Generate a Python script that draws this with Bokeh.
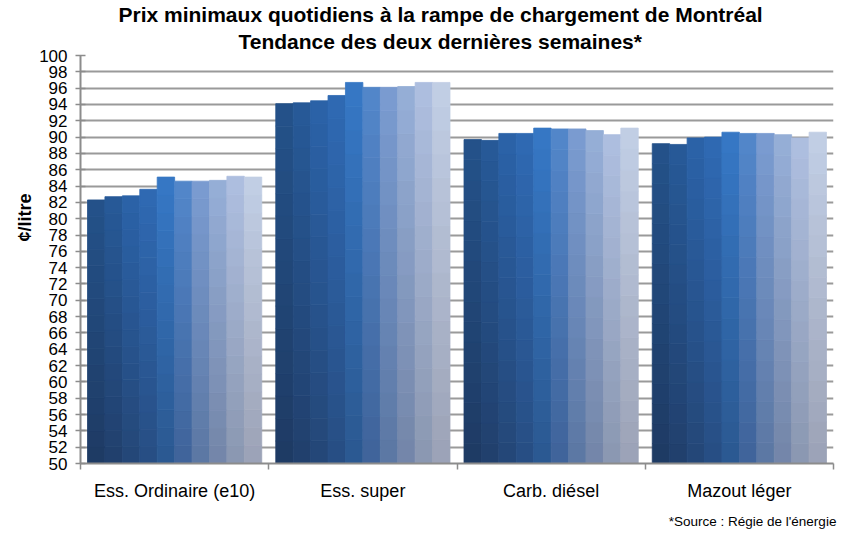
from bokeh.plotting import figure
from bokeh.models import (Range1d, LinearAxis, FixedTicker, Title, ColumnDataSource, Grid)
from bokeh.embed import file_html
from bokeh.resources import INLINE

# ---- data ----
categories = ["Ess. Ordinaire (e10)", "Ess. super", "Carb. diésel", "Mazout léger"]
ordinaire = [82.3, 82.7, 82.8, 83.6, 85.1, 84.6, 84.6, 84.7, 85.2, 85.1]
essence_super = [94.1, 94.2, 94.45, 95.1, 96.7, 96.1, 96.1, 96.2, 96.7, 96.7]
diesel = [89.7, 89.6, 90.45, 90.45, 91.1, 91.0, 91.0, 90.8, 90.3, 91.1]
mazout = [89.2, 89.1, 89.9, 90.0, 90.6, 90.45, 90.45, 90.3, 89.9, 90.6]
y_ticks = list(range(50, 101, 2))
title_lines = ["Prix minimaux quotidiens à la rampe de chargement de Montréal",
               "Tendance des deux dernières semaines*"]
footnote = "*Source : Régie de l'énergie"

top_colors = ["#24528A", "#275A98", "#2B63A9", "#2F6AB4", "#3678C6",
              "#5387CB", "#7B9CD1", "#96AFD8", "#AEBFE0", "#C2CFE6"]
bottom_colors = ["#1E3A63", "#213F6C", "#244676", "#274D82", "#2B5890",
                 "#3F6399", "#5B77A3", "#7385A8", "#8A97B1", "#9BA2B6"]

groups = [ordinaire, essence_super, diesel, mazout]
BASE = 50
FONT = "Liberation Sans"


def hex2rgb(h):
    h = h.lstrip("#")
    return tuple(int(h[i:i + 2], 16) for i in (0, 2, 4))


def lerp(c1, c2, t):
    a, b = hex2rgb(c1), hex2rgb(c2)
    return "#%02x%02x%02x" % tuple(int(round(a[j] + (b[j] - a[j]) * t)) for j in range(3))


p = figure(width=838, height=533, output_backend="svg", toolbar_location=None,
           x_range=Range1d(0, 4), y_range=Range1d(50, 100),
           x_axis_type=None, y_axis_type=None,
           min_border_left=80, min_border_right=5, min_border_top=53,
           min_border_bottom=70)
p.title = None
p.outline_line_color = None
p.background_fill_color = "white"
p.border_fill_color = "white"

# y axis
yax = LinearAxis(ticker=FixedTicker(ticks=y_ticks))
yax.axis_line_color = "#8c8c8c"
yax.axis_line_width = 2
yax.major_tick_line_color = "#8c8c8c"
yax.major_tick_line_width = 1.5
yax.major_tick_in = 5
yax.major_tick_out = 5
yax.minor_tick_line_color = None
yax.major_label_text_font = FONT
yax.major_label_text_font_size = "17px"
yax.major_label_text_color = "black"
yax.major_label_standoff = 8
p.add_layout(yax, "left")

# horizontal grid
grid = Grid(dimension=1, ticker=yax.ticker, grid_line_color="#9a9a9a", grid_line_width=2)
p.add_layout(grid)

# bars with a vertical gradient (drawn as stacked slices)
N = 16
n_series = len(top_colors)
group_frac = 174.0 / 188.0
bw = group_frac / n_series
xs, ws, tops, bots, cols = [], [], [], [], []
for g, vals in enumerate(groups):
    for i, v in enumerate(vals):
        xc = g + 0.5 + (i - (n_series - 1) / 2.0) * bw
        for k in range(N):
            b = BASE + (v - BASE) * k / N
            t = BASE + (v - BASE) * (k + 1) / N
            xs.append(xc)
            ws.append(bw)
            bots.append(b)
            tops.append(t)
            cols.append(lerp(bottom_colors[i], top_colors[i], (k + 0.5) / N))
src = ColumnDataSource(dict(x=xs, w=ws, top=tops, bottom=bots, c=cols))
p.vbar(x="x", width="w", top="top", bottom="bottom", fill_color="c",
       line_color="c", line_width=0.8, source=src)

# x axis: line with ticks at the category boundaries (no labels)
xax1 = LinearAxis(ticker=FixedTicker(ticks=[], minor_ticks=[0, 1, 2, 3, 4]))
xax1.axis_line_color = "#8c8c8c"
xax1.axis_line_width = 2
xax1.major_tick_line_color = None
xax1.major_tick_in = 0
xax1.major_tick_out = 6
xax1.minor_tick_line_color = "#8c8c8c"
xax1.minor_tick_line_width = 1.5
xax1.minor_tick_in = 0
xax1.minor_tick_out = 6
xax1.major_label_standoff = 0
p.add_layout(xax1, "below")

# x axis: category labels centred between ticks
centers = [g + 0.5 for g in range(len(categories))]
xax2 = LinearAxis(ticker=FixedTicker(ticks=centers))
xax2.major_label_overrides = {c: lab for c, lab in zip(centers, categories)}
xax2.axis_line_color = None
xax2.major_tick_line_color = None
xax2.minor_tick_line_color = None
xax2.major_label_text_font = FONT
xax2.major_label_text_font_size = "18px"
xax2.major_label_text_color = "black"
xax2.major_label_standoff = 5
p.add_layout(xax2, "below")

# footnote, set as a label-only axis row at the bottom right
foot_pos = 3.57
xax3 = LinearAxis(ticker=FixedTicker(ticks=[foot_pos]))
xax3.major_label_overrides = {foot_pos: footnote}
xax3.axis_line_color = None
xax3.major_tick_line_color = None
xax3.minor_tick_line_color = None
xax3.major_label_text_font = FONT
xax3.major_label_text_font_size = "13.5px"
xax3.major_label_text_color = "black"
xax3.major_label_standoff = 4
p.add_layout(xax3, "below")

# y label as a left title (shifted upward)
ylab = Title(text="¢/litre", align="left", offset=222, text_font=FONT,
             text_font_size="18px", text_font_style="bold", text_color="black",
             standoff=4)
p.add_layout(ylab, "left")

# two-line main title (second line added first: it sits nearest the frame)
t2 = Title(text=title_lines[1], align="left", offset=158,
           text_font=FONT, text_font_size="21px", text_font_style="bold",
           text_color="black", standoff=5)
t1 = Title(text=title_lines[0], align="left", offset=38, text_font=FONT,
           text_font_size="21px", text_font_style="bold", text_color="black",
           standoff=0)
p.add_layout(t2, "above")
p.add_layout(t1, "above")

open("out.html", "w").write(file_html(p, INLINE))
